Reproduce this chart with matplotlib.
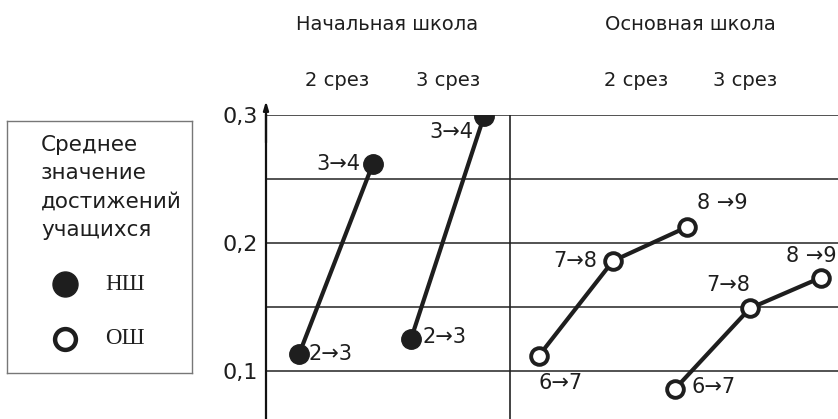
import matplotlib
matplotlib.use('Agg')
import matplotlib.pyplot as plt

plt.rcParams['font.family'] = ['DejaVu Sans']

# mean achievement by wave (срез); x is the horizontal slot of each grade transition
ns_labels = ['2 срез', '3 срез']
os_labels = ['2 срез', '3 срез']

ns2_x = [33, 107]
ns2_y = [0.113, 0.262]
ns2_txt = ['2→3', '3→4']

ns3_x = [145, 218]
ns3_y = [0.125, 0.299]
ns3_txt = ['2→3', '3→4']

os2_x = [273, 347, 421]
os2_y = [0.112, 0.186, 0.2125]
os2_txt = ['6→7', '7→8', '8 →9']

os3_x = [409, 484, 555]
os3_y = [0.086, 0.149, 0.173]
os3_txt = ['6→7', '7→8', '8 →9']

grid_levels = [0.1, 0.15, 0.2, 0.25, 0.3]
yticks = [0.1, 0.2, 0.3]
ytick_labels = ['0,1', '0,2', '0,3']
legend_lines = ['Среднее', 'значение', 'достижений', 'учащихся']

W, H = 838, 419
fig = plt.figure(figsize=(W / 100, H / 100), dpi=100)
ax = fig.add_axes([266 / W, 0, 572 / W, 304 / H])
ax.set_xlim(0, 572)
ax.set_ylim(0.0625, 0.3)

for lv in grid_levels:
    ax.axhline(lv, color='#444444', lw=1.3, zorder=1)
ax.axvline(244, color='#222222', lw=1.2, zorder=1)

line_c = '#1e1e1e'
ax.plot(ns2_x, ns2_y, '-o', color=line_c, lw=3, ms=14, zorder=3)
ax.plot(ns3_x, ns3_y, '-o', color=line_c, lw=3, ms=14, zorder=3)
for xs, ys in [(os2_x, os2_y), (os3_x, os3_y)]:
    ax.plot(xs, ys, '-o', color=line_c, lw=3, ms=12, mfc='white', mec=line_c, mew=2.8, zorder=3)

# label offsets in pixels relative to each point
def put(xs, ys, txts, offs):
    for x, y, t, (dx, dy, ha) in zip(xs, ys, txts, offs):
        ax.annotate(t, (x, y), xytext=(dx * 0.72, dy * 0.72), textcoords='offset points',
                    ha=ha, va='center', fontsize=15, color='#1e1e1e', zorder=4)

put(ns2_x, ns2_y, ns2_txt, [(10, 0, 'left'), (-13, 0, 'right')])
put(ns3_x, ns3_y, ns3_txt, [(11, 2, 'left'), (-11, -16, 'right')])
put(os2_x, os2_y, os2_txt, [(0, -27, 'left'), (-16, 0, 'right'), (10, 24, 'left')])
put(os3_x, os3_y, os3_txt, [(16, 2, 'left'), (0, 23, 'right'), (16, 22, 'right')])

for s in ['top', 'right', 'bottom']:
    ax.spines[s].set_visible(False)
ax.spines['left'].set_linewidth(1.6)
ax.spines['left'].set_color('#111111')
ax.set_xticks([])
ax.set_yticks(yticks)
ax.set_yticklabels(ytick_labels, fontsize=16, color='#1e1e1e')
ax.tick_params(axis='y', length=0, pad=6)
ax.annotate('', xy=(0, 1.055), xytext=(0, 0.9), xycoords='axes fraction',
            arrowprops=dict(arrowstyle='-|>,head_length=0.5,head_width=0.15',
                            color='#111111', lw=1.6), annotation_clip=False)

# headers
hdr_c = '#1e1e1e'
fig.text(387 / W, 1 - 25 / H, 'Начальная школа', ha='center', va='center', fontsize=14, color=hdr_c)
fig.text(690 / W, 1 - 25 / H, 'Основная школа', ha='center', va='center', fontsize=14, color=hdr_c)
for xc, t in zip([337, 448], ns_labels):
    fig.text(xc / W, 1 - 80 / H, t, ha='center', va='center', fontsize=14, color=hdr_c)
for xc, t in zip([636, 745], os_labels):
    fig.text(xc / W, 1 - 80 / H, t, ha='center', va='center', fontsize=14, color=hdr_c)

# legend box
lax = fig.add_axes([7 / W, (H - 373) / H, 185 / W, 252 / H])
lax.set_xlim(0, 185)
lax.set_ylim(252, 0)
lax.set_xticks([])
lax.set_yticks([])
for s in lax.spines.values():
    s.set_color('#777777')
    s.set_linewidth(1.0)
for yy, t in zip([24, 52, 81, 109], legend_lines):
    lax.text(34, yy, t, ha='left', va='center', fontsize=15.5, color='#1e1e1e')
lax.plot([58], [163], 'o', color=line_c, ms=18)
lax.plot([58], [218], 'o', color=line_c, ms=15, mfc='white', mew=3.2)
lax.text(98, 163, 'НШ', ha='left', va='center', fontsize=16.5, family='Liberation Serif', color='#1e1e1e')
lax.text(98, 218, 'ОШ', ha='left', va='center', fontsize=16.5, family='Liberation Serif', color='#1e1e1e')

fig.savefig('out.png', dpi=100)
